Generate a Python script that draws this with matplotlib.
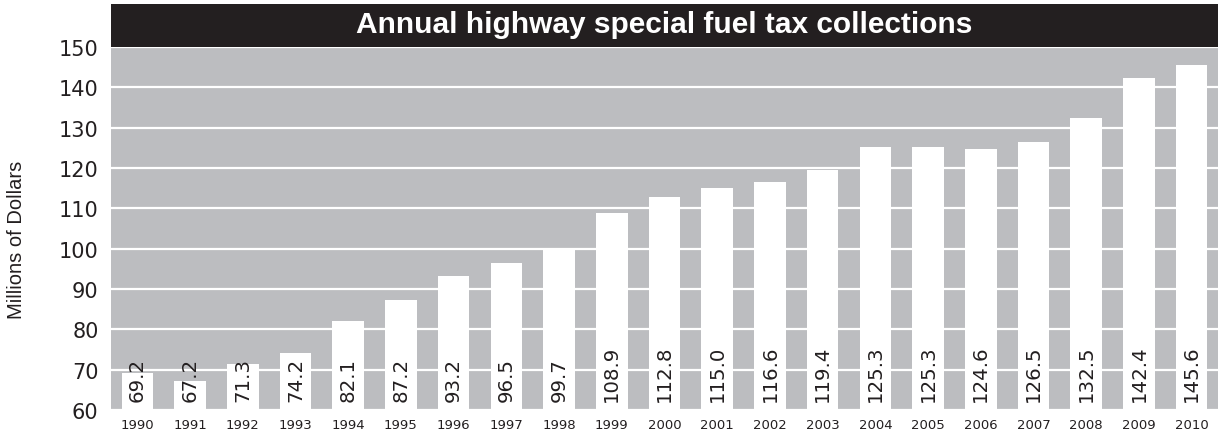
import matplotlib.pyplot as plt
import numpy as np

plt.rcParams['font.family'] = ['DejaVu Sans']

years = [str(y) for y in range(1990, 2011)]
collections = [69.2, 67.2, 71.3, 74.2, 82.1, 87.2, 93.2, 96.5, 99.7, 108.9, 112.8,
               115.0, 116.6, 119.4, 125.3, 125.3, 124.6, 126.5, 132.5, 142.4, 145.6]
y_ticks = [60, 70, 80, 90, 100, 110, 120, 130, 140, 150]

grey = '#bcbdc0'
dark = '#231f20'

fig = plt.figure(figsize=(12.25, 4.39), dpi=100)
fig.patch.set_facecolor('white')

ax = fig.add_axes([111 / 1225, 28 / 439, 1107 / 1225, 363 / 439])
ax.set_facecolor(grey)
x = np.arange(len(years))
ax.bar(x, collections, width=0.6, color='white', zorder=3)
ax.set_ylim(60, 150)
ax.set_xlim(-0.5, len(years) - 0.5)
ax.set_yticks(y_ticks)
ax.set_yticklabels([str(t) for t in y_ticks], fontsize=15, color=dark)
ax.set_xticks(x)
ax.set_xticklabels(years, fontsize=9.5, color=dark)
ax.tick_params(axis='both', length=0)
ax.tick_params(axis='y', pad=9)
ax.tick_params(axis='x', pad=6)
ax.grid(axis='y', color='white', linewidth=1.6, zorder=1)
ax.set_axisbelow(True)
for s in ax.spines.values():
    s.set_visible(False)

for xi, v in zip(x, collections):
    ax.text(xi, 62.2, '{:.1f}'.format(v), rotation=90, ha='center', va='bottom',
            fontsize=14.2, color=dark, zorder=4)

# title bar
tax = fig.add_axes([111 / 1225, 391 / 439, 1107 / 1225, 43 / 439])
tax.set_facecolor(dark)
tax.set_xticks([])
tax.set_yticks([])
for s in tax.spines.values():
    s.set_visible(False)
tax.text(0.5, 0.35, 'Annual highway special fuel tax collections', ha='center', va='baseline',
         fontsize=21.5, fontweight='bold', color='white', family='Liberation Sans',
         transform=tax.transAxes)

fig.text(17 / 1225, (439 - 240) / 439, 'Millions of Dollars', rotation=90,
         ha='center', va='center', fontsize=14.5, color=dark, family='Liberation Sans')

fig.savefig('out.png', dpi=100)
